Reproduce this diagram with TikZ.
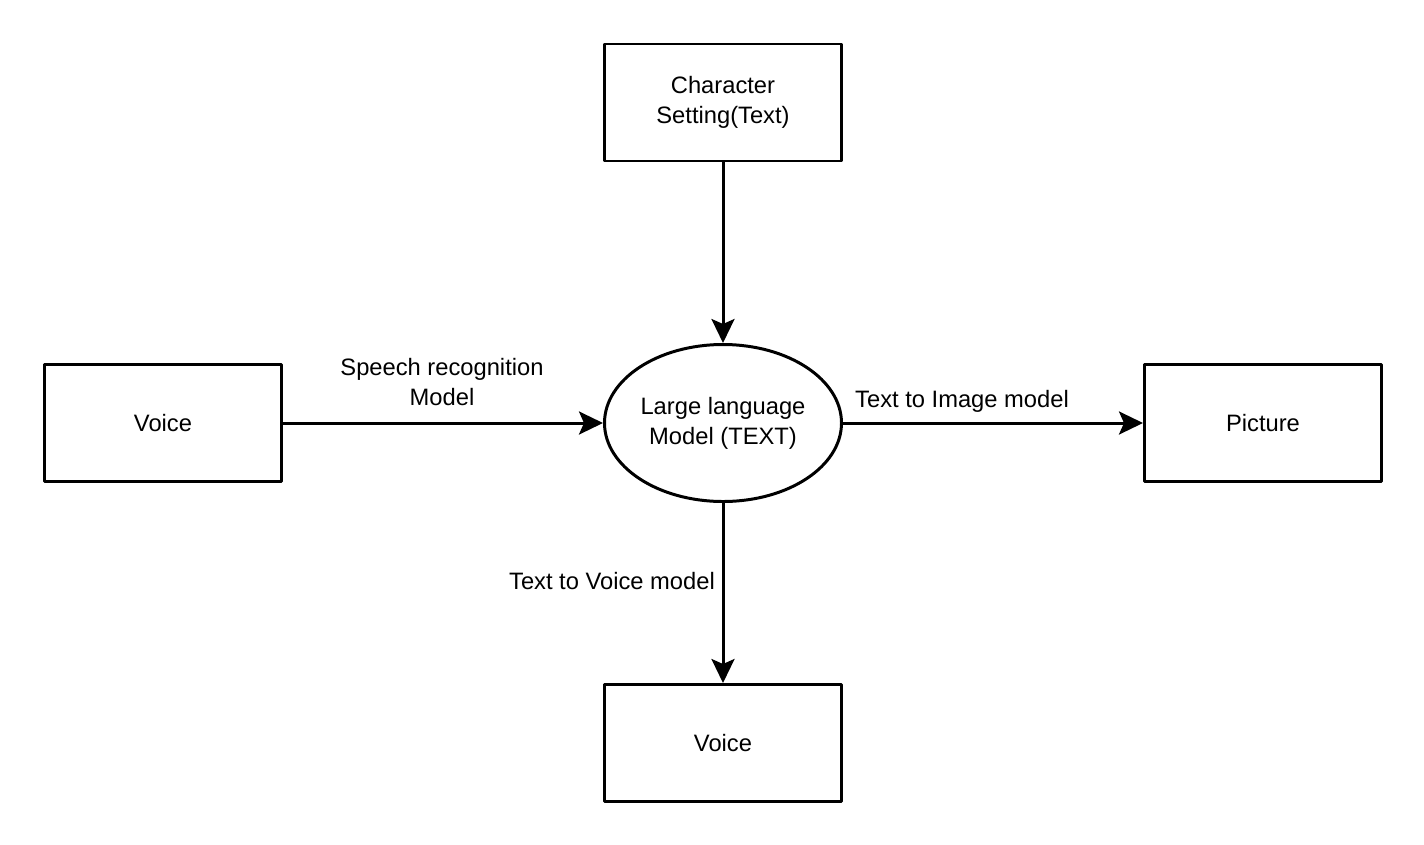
\documentclass[tikz,border=0pt]{standalone}
\usepackage{fontspec}
\setmainfont{Liberation Sans}
\usetikzlibrary{shapes.geometric,arrows.meta}
\begin{document}
\begin{tikzpicture}[line join=round, font=\fontsize{13.5}{17}\selectfont,
	box/.style={draw, line width=1.7pt, minimum width=4.74cm, minimum height=2.34cm, align=center},
	llm/.style={draw, ellipse, line width=1.7pt, minimum width=4.74cm, minimum height=3.14cm, inner sep=0pt, align=center},
	flow/.style={line width=1.7pt, -{Stealth[length=0.48cm, width=0.46cm, inset=0.1cm]}},
	lbl/.style={align=center, inner sep=0pt}]
	\useasboundingbox (0,0) rectangle (28.48,-16.88);
	\path
	(14.46,-2.05) coordinate (C)
	(14.46,-8.46) coordinate (M)
	(3.26,-8.46) coordinate (L)
	(25.26,-8.46) coordinate (R)
	(14.46,-14.86) coordinate (B)
	;
	\node[llm] (model) at (M) {Large language\\Model (TEXT)};
	\node[box] (setting) at (C) {Character\\Setting(Text)};
	\node[box] (voicein) at (L) {Voice};
	\node[box] (picture) at (R) {Picture};
	\node[box] (voiceout) at (B) {Voice};
	\draw[flow] (setting) -- (model);
	\draw[flow] (voicein) -- (model);
	\draw[flow] (model) -- (picture);
	\draw[flow] (model) -- (voiceout);
	\node[lbl] (speech) at (8.84,-7.64) {Speech recognition\\Model};
	\node[lbl] (toimage) at (19.24,-8.02) {Text to Image model};
	\node[lbl] (tovoice) at (12.24,-11.62) {Text to Voice model};
\end{tikzpicture}
\end{document}
